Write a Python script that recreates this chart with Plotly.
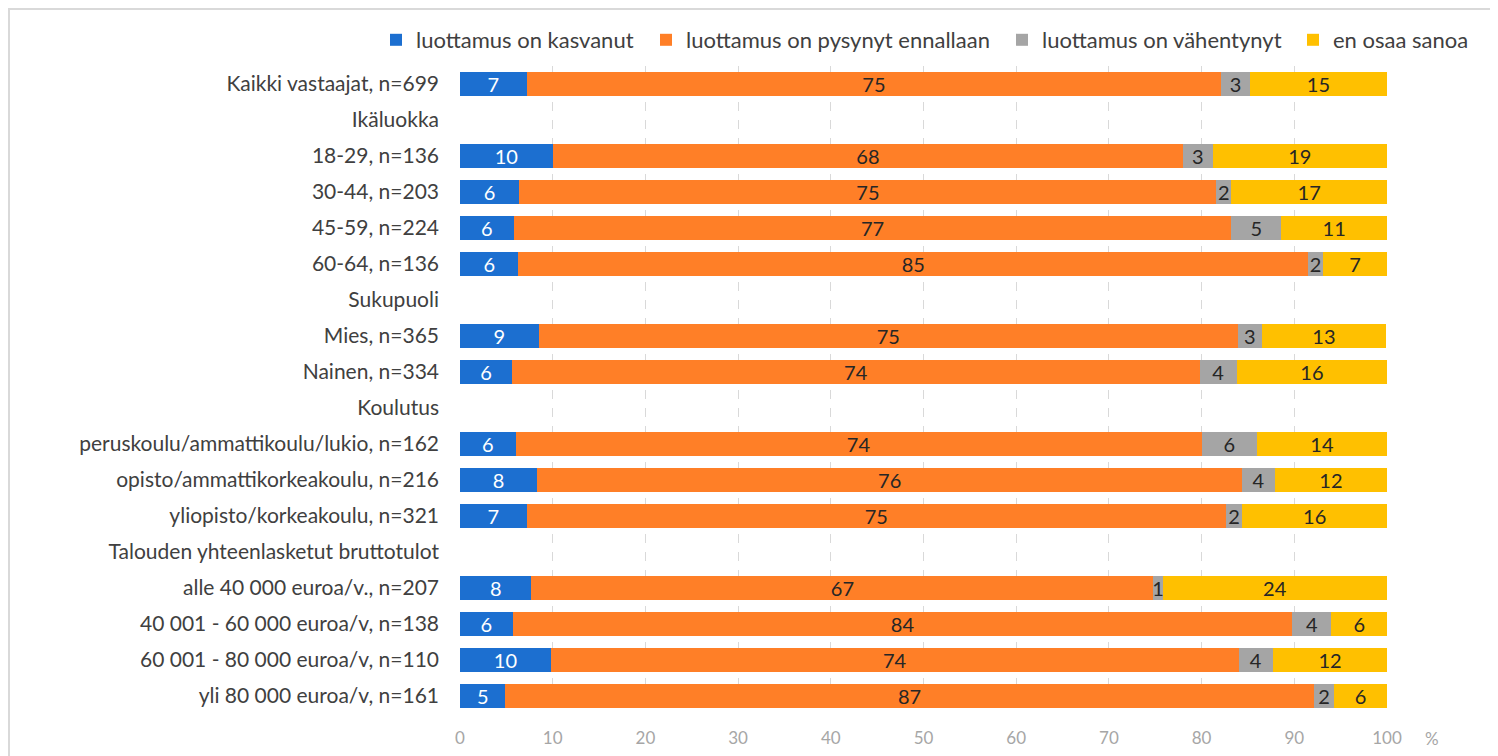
import plotly.graph_objects as go

categories = [
    "Kaikki vastaajat, n=699",
    "Ikäluokka",
    "18-29, n=136",
    "30-44, n=203",
    "45-59, n=224",
    "60-64, n=136",
    "Sukupuoli",
    "Mies, n=365",
    "Nainen, n=334",
    "Koulutus",
    "peruskoulu/ammattikoulu/lukio, n=162",
    "opisto/ammattikorkeakoulu, n=216",
    "yliopisto/korkeakoulu, n=321",
    "Talouden yhteenlasketut bruttotulot",
    "alle 40 000 euroa/v., n=207",
    "40 001 - 60 000 euroa/v, n=138",
    "60 001 - 80 000 euroa/v, n=110",
    "yli 80 000 euroa/v, n=161",
]

kasvanut = [7.2, None, 10.0, 6.4, 5.8, 6.3, None, 8.5, 5.6, None, 6.0, 8.3, 7.2, None, 7.7, 5.7, 9.8, 4.9]
pysynyt = [74.9, None, 68.0, 75.2, 77.4, 85.2, None, 75.4, 74.2, None, 74.0, 76.1, 75.4, None, 67.1, 84.1, 74.2, 87.2]
vahentynyt = [3.1, None, 3.2, 1.6, 5.4, 1.6, None, 2.6, 4.0, None, 6.0, 3.5, 1.8, None, 1.0, 4.2, 3.7, 2.2]
en_osaa = [14.8, None, 18.8, 16.8, 11.4, 6.9, None, 13.4, 16.2, None, 14.0, 12.1, 15.6, None, 24.2, 6.0, 12.3, 5.7]

series_names = ["luottamus on kasvanut", "luottamus on pysynyt ennallaan",
                "luottamus on vähentynyt", "en osaa sanoa"]
series_values = [kasvanut, pysynyt, vahentynyt, en_osaa]
colors = ["#1C6FD0", "#FF7F27", "#A5A5A5", "#FFC000"]
text_colors = ["#FFFFFF", "#262626", "#262626", "#262626"]
x_ticks = [0, 10, 20, 30, 40, 50, 60, 70, 80, 90, 100]

FONT = "Lato, Liberation Sans, sans-serif"

# page offset (browser body margin)
OFF = 8
FW, FH = 1498 - OFF, 756 - OFF
# plot area in figure pixels
L, R, T, B = 460 - OFF, 1387 - OFF, 66 - OFF, 714 - OFF
W, H = R - L, B - T

legend_text_left = [415, 685, 1041, 1332]   # reference page x of legend texts
legend_ids = ["legend", "legend2", "legend3", "legend4"]

fig = go.Figure()
for name, vals, col, tcol, lid in zip(series_names, series_values, colors, text_colors, legend_ids):
    fig.add_trace(go.Bar(
        y=categories, x=vals, name=name, orientation="h", legend=lid,
        marker=dict(color=col, line=dict(width=0)),
        texttemplate="%{x:.0f}", textposition="inside", textangle=0,
        insidetextanchor="middle", constraintext="none",
        textfont=dict(family=FONT, size=20, color=tcol),
    ))

legend_layout = {}
for lid, tx in zip(legend_ids, legend_text_left):
    legend_layout[lid] = dict(
        orientation="h", x=(tx - OFF - 39 - L) / W, xanchor="left",
        y=(B - (40 - OFF)) / H, yanchor="middle",
        font=dict(family=FONT, size=22, color="#404040"),
        itemwidth=30, bgcolor="rgba(0,0,0,0)")

fig.update_layout(
    barmode="stack",
    bargap=0.33,
    width=FW, height=FH,
    margin=dict(l=L, r=FW - R, t=T, b=FH - B, autoexpand=False),
    paper_bgcolor="white", plot_bgcolor="white",
    font=dict(family=FONT, color="#404040"),
    showlegend=True,
    **legend_layout,
    xaxis=dict(range=[0, 100], tickvals=x_ticks, showgrid=True,
               gridcolor="#D9D9D9", griddash="dash", gridwidth=1,
               zeroline=False, showline=False,
               tickfont=dict(family=FONT, size=17, color="#A6A6A6"),
               ticks="", ticklabelstandoff=12),
    yaxis=dict(autorange="reversed", showgrid=False, zeroline=False, showline=False,
               tickfont=dict(family=FONT, size=21, color="#404040"),
               ticks="", ticklabelstandoff=20),
    shapes=[dict(type="rect", xref="paper", yref="paper",
                 x0=(1 - L) / W, x1=(1492 - OFF - L) / W,
                 y0=-0.2, y1=(B - (9 - OFF)) / H,
                 line=dict(color="#D9D9D9", width=2), fillcolor="rgba(0,0,0,0)", layer="below")],
    annotations=[dict(text="%", xref="paper", yref="paper",
                      x=(1432 - OFF - L) / W, y=-(738 - 714) / H,
                      showarrow=False, xanchor="center", yanchor="middle",
                      font=dict(family=FONT, size=17, color="#A6A6A6"))],
)

fig.write_html("out.html")
